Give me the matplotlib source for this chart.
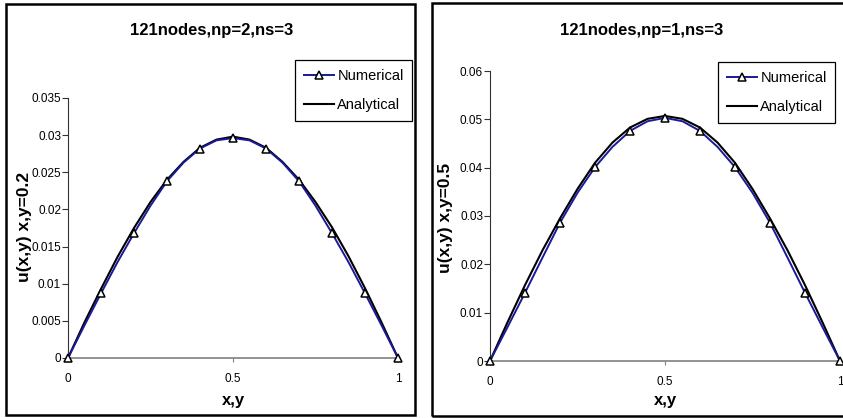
import matplotlib
matplotlib.use('Agg')
import matplotlib.pyplot as plt
from matplotlib.patches import Rectangle

plt.rcParams['font.family'] = ['Liberation Sans', 'DejaVu Sans']

# x,y positions (11x11 = 121 nodes, line drawn at half steps)
xs = [0, 0.05, 0.1, 0.15, 0.2, 0.25, 0.3, 0.35, 0.4, 0.45, 0.5,
      0.55, 0.6, 0.65, 0.7, 0.75, 0.8, 0.85, 0.9, 0.95, 1]

# panel 1: np=2, y=0.2
num1 = [0, 0.0044, 0.0087, 0.0129, 0.0168, 0.0205, 0.0238, 0.0263, 0.0282, 0.0293, 0.0296,
        0.0293, 0.0282, 0.0263, 0.0238, 0.0205, 0.0168, 0.0129, 0.0087, 0.0044, 0]
ana1 = [0, 0.0048, 0.0093, 0.0136, 0.0175, 0.0210, 0.0240, 0.0264, 0.0283, 0.0294, 0.0298,
        0.0294, 0.0283, 0.0264, 0.0240, 0.0210, 0.0176, 0.0137, 0.0094, 0.0048, 0]

# panel 2: np=1, y=0.5
num2 = [0, 0.0070, 0.0141, 0.0214, 0.0286, 0.0348, 0.0401, 0.0443, 0.0476, 0.0496, 0.0503,
        0.0496, 0.0476, 0.0443, 0.0401, 0.0348, 0.0286, 0.0214, 0.0141, 0.0070, 0]
ana2 = [0, 0.0080, 0.0157, 0.0229, 0.0295, 0.0356, 0.0410, 0.0452, 0.0483, 0.0501, 0.0507,
        0.0501, 0.0483, 0.0452, 0.0410, 0.0356, 0.0295, 0.0229, 0.0157, 0.0080, 0]

titles = ['121nodes,np=2,ns=3', '121nodes,np=1,ns=3']
ylabels = ['u(x,y) x,y=0.2', 'u(x,y) x,y=0.5']
yticks1 = [0, 0.005, 0.01, 0.015, 0.02, 0.025, 0.03, 0.035]
ylabs1 = ['0', '0.005', '0.01', '0.015', '0.02', '0.025', '0.03', '0.035']
yticks2 = [0, 0.01, 0.02, 0.03, 0.04, 0.05, 0.06]
ylabs2 = ['0', '0.01', '0.02', '0.03', '0.04', '0.05', '0.06']

W, H = 843, 418
fig = plt.figure(figsize=(W / 100, H / 100), dpi=100)

def px(x0, y0, x1, y1):
    # pixel box (top-down) -> figure fraction
    return [x0 / W, 1 - y1 / H, (x1 - x0) / W, (y1 - y0) / H]

# panel frames
for (x0, y0, x1, y1) in [(6, 4, 415, 415), (432, 3, 845, 416)]:
    fig.patches.append(Rectangle((x0 / W, 1 - y1 / H), (x1 - x0) / W, (y1 - y0) / H,
                                 transform=fig.transFigure, fill=False,
                                 edgecolor='black', linewidth=1.8))

panels = [
    dict(box=(68, 98, 398, 358), num=num1, ana=ana1, yt=yticks1, yl=ylabs1, ymax=0.035,
         title_xy=(212, 30), ylab_xy=(25, 227), leg=(295, 60)),
    dict(box=(490, 71, 840, 361), num=num2, ana=ana2, yt=yticks2, yl=ylabs2, ymax=0.06,
         title_xy=(642, 30), ylab_xy=(446, 218), leg=(718, 62)),
]

for i, p in enumerate(panels):
    ax = fig.add_axes(px(*p['box']))
    ax.plot(xs, p['num'], color='#1a1a9a', lw=1.4, marker='^', markevery=2,
            markersize=5.5, markerfacecolor='white', markeredgecolor='black',
            markeredgewidth=1.1, label='Numerical', zorder=3)
    ax.plot(xs, p['ana'], color='black', lw=1.5, label='Analytical', zorder=2)
    ax.set_xlim(0, 1)
    ax.set_ylim(0, p['ymax'])
    ax.set_xticks([0, 0.5, 1])
    ax.set_xticklabels(['0', '0.5', '1'])
    ax.set_yticks(p['yt'])
    ax.set_yticklabels(p['yl'])
    for s in ['top', 'right']:
        ax.spines[s].set_visible(False)
    ax.spines['left'].set_color('#333333')
    ax.spines['bottom'].set_color('#808080')
    ax.spines['bottom'].set_linewidth(1.2)
    ax.tick_params(axis='y', direction='out', length=4, width=0.8, labelsize=8.5,
                   color='#333333', pad=1)
    ax.tick_params(axis='x', direction='out', length=3, width=0.8, labelsize=8.5,
                   color='#808080', pad=8)
    for ln in ax.lines:
        ln.set_clip_on(False)

    tx, ty = p['title_xy']
    fig.text(tx / W, 1 - ty / H, titles[i], ha='center', va='center',
             fontsize=12, fontweight='bold')
    lx, ly = p['ylab_xy']
    fig.text(lx / W, 1 - ly / H, ylabels[i], ha='center', va='center', rotation=90,
             fontsize=12.5, fontweight='bold')
    cx = (p['box'][0] + p['box'][2]) / 2
    fig.text(cx / W, 1 - 400 / H, 'x,y', ha='center', va='center',
             fontsize=12, fontweight='bold')

    gx, gy = p['leg']
    leg = ax.legend(loc='upper left', bbox_to_anchor=(gx / W, 1 - gy / H),
                    bbox_transform=fig.transFigure, frameon=True, fancybox=False,
                    edgecolor='black', framealpha=1, fontsize=10.5,
                    handlelength=2.1, handletextpad=0.2, borderpad=0.6,
                    labelspacing=1.05, borderaxespad=0)
    leg.get_frame().set_linewidth(0.9)

fig.savefig('out.png', dpi=100)
